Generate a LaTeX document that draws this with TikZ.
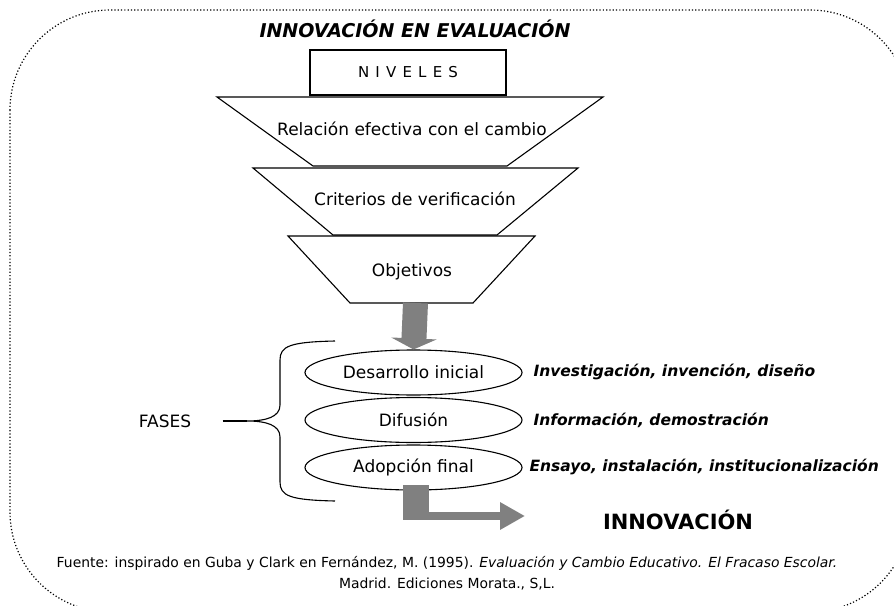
\documentclass[tikz,border=0pt]{standalone}
\usepackage{fontspec}
\setmainfont{DejaVu Sans}
\usepackage{xcolor}
\usetikzlibrary{shapes.geometric,arrows.meta}

\definecolor{arrowgray}{HTML}{808080}

\tikzset{
  outline/.style={line width=1.1pt},
  marco/.style={line width=1.2pt, dash pattern=on 1.2pt off 2.1pt, rounded corners=100pt},
  nivel/.style={font=\fontsize{17}{19}\selectfont},
  fase/.style={ellipse, draw, line width=1.1pt, minimum width=217pt, minimum height=45pt,
    inner sep=0pt, font=\fontsize{17}{19}\selectfont},
  actividad/.style={anchor=west, font=\fontsize{15.5}{18}\selectfont\bfseries\itshape},
  flecha/.style={draw=arrowgray, line width=25pt, -{Triangle[length=11pt,width=45pt]}},
  fuente/.style={font=\fontsize{13.9}{16}\selectfont},
}

\begin{document}
\begin{tikzpicture}[x=1pt,y=-1pt]
        \useasboundingbox (0,0) rectangle (894,605);
        \clip (0,0) rectangle (894,605);

        % Frame
        \draw[marco] (10,10) rectangle (910,612);
        \node[font=\fontsize{19}{22}\selectfont\bfseries\itshape] (titulo) at (415,29) {INNOVACIÓN EN EVALUACIÓN};

        % Levels (funnel)
        \node[draw, outline, minimum width=196pt, minimum height=45pt,
              font=\fontsize{15}{17}\selectfont] (niveles) at (408,72.5) {\spaceskip=6.2pt N I V E L E S};
        \draw[outline] (217,97) -- (603,97) -- (507,166) -- (313,166) -- cycle;
        \node[nivel] (relacion) at (412,129) {Relación efectiva con el cambio};
        \draw[outline] (253,168) -- (578,168) -- (497,235) -- (333,235) -- cycle;
        \node[nivel] (criterios) at (415,199) {Criterios de verificación};
        \draw[outline] (288,236) -- (535,236) -- (473,303) -- (350,303) -- cycle;
        \node[nivel] (objetivos) at (412,272) {Objetivos};
        \coordinate (embudo) at (415.5,303);

        % Phases
        \node[fase] (desarrollo) at (413.5,372.5) {Desarrollo inicial};
        \node[fase] (difusion) at (413.5,420) {Difusión};
        \node[fase] (adopcion) at (413.5,467.5) {Adopción final};
        \draw[flecha] (embudo) -- (desarrollo.north);

        \node[actividad] (investigacion) at (530,372) {Investigación, invención, diseño};
        \node[actividad] (informacion) at (530,420) {Información, demostración};
        \node[actividad] (ensayo) at (526,467) {Ensayo, instalación, institucionalización};

        % Brace
        \node[nivel] (fases) at (165,421) {FASES};
        \coordinate (punta) at (247,421);
        \draw[outline] ([xshift=28pt]fases.east) -- (punta);
        \draw[outline] (335,341) .. controls (290,342) and (280,346) .. (280,360) -- (280,405)
              .. controls (280,417) and (266,421) .. (punta)
              .. controls (266,421) and (280,425) .. (280,437) -- (280,482)
              .. controls (280,496) and (290,500) .. (335,501);

        % Innovation arrow
        \node[font=\fontsize{21}{24}\selectfont\bfseries] (innovacion) at (678,520) {INNOVACIÓN};
        \coordinate (giro) at (403,516);
        \coordinate (salida) at (525,516);
        \fill[arrowgray] (403,485) rectangle (429,520);
        \draw[draw=arrowgray, line width=8pt, -{Triangle[length=25pt,width=26pt]}] (giro) -- (salida);

        % Source
        \node[fuente] (fuente1) at (447,563) {Fuente: inspirado en Guba y Clark en Fernández, M. (1995). \textit{Evaluación y Cambio Educativo. El Fracaso Escolar.}};
        \node[fuente] (fuente2) at (447,584) {Madrid. Ediciones Morata., S,L.};
    \end{tikzpicture}
\end{document}
